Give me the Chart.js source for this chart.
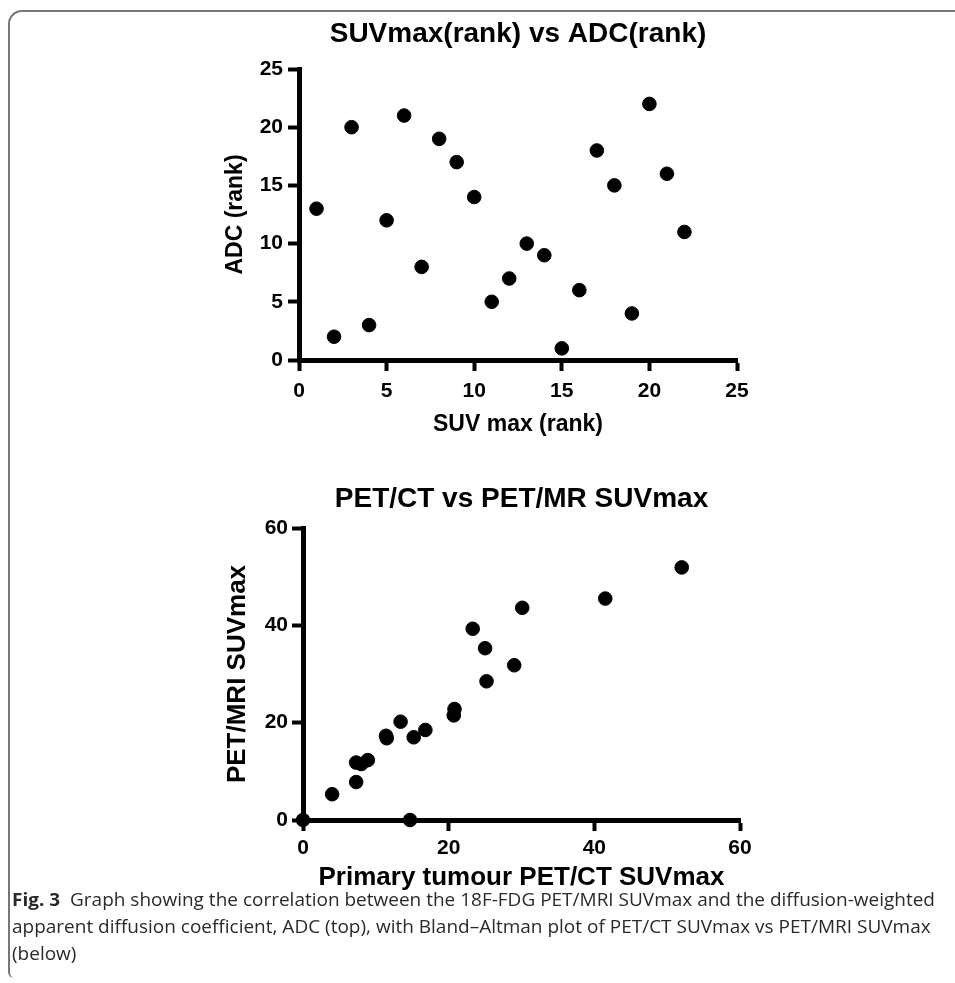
<!DOCTYPE html>
<html>
<head>
<meta charset="utf-8">
<script src="https://cdn.jsdelivr.net/npm/chart.js@4.4.1/dist/chart.umd.min.js"></script>
<style>
    body { margin: 0; background: #fff; width: 955px; height: 983px; overflow: hidden; position: relative; }
    .frame {
        position: absolute; left: 8px; top: 10px; width: 990px; height: 966px;
        border-top: 2px solid #777; border-left: 2px solid #777;
        border-top-left-radius: 14px; border-bottom-left-radius: 6px;
    }
    .box { position: absolute; left: 150px; width: 640px; }
    #topBox { top: 0px; height: 445px; }
    #bottomBox { top: 460px; height: 440px; }
    .caption {
        position: absolute; left: 12px; top: 886px;
        font-family: "Open Sans", sans-serif; font-size: 17.5px; line-height: 27px; color: #2a2a2a;
    }
    .caption span { display: block; white-space: nowrap; transform-origin: left center; }
</style>
</head>
<body>
<div class="frame"></div>
<div class="box" id="topBox"><canvas id="rankChart"></canvas></div>
<div class="box" id="bottomBox"><canvas id="suvChart"></canvas></div>
<div class="caption" id="caption">
    <span><b>Fig. 3</b>&nbsp; Graph showing the correlation between the 18F-FDG PET/MRI SUVmax and the diffusion-weighted</span>
    <span>apparent diffusion coefficient, ADC (top), with Bland–Altman plot of PET/CT SUVmax vs PET/MRI SUVmax</span>
    <span>(below)</span>
</div>
<script>
// top plot: rank vs rank
var suvRank = [1, 2, 3, 4, 5, 6, 7, 8, 9, 10, 11, 12, 13, 14, 15, 16, 17, 18, 19, 20, 21, 22];
var adcRank = [13, 2, 20, 3, 12, 21, 8, 19, 17, 14, 5, 7, 10, 9, 1, 6, 18, 15, 4, 22, 16, 11];
var rankTicks = [0, 5, 10, 15, 20, 25];

// bottom plot: PET/CT vs PET/MRI SUVmax
var petCt = [0, 4.0, 7.3, 7.3, 8.0, 8.9, 11.4, 11.5, 13.4, 14.7, 15.2, 16.8, 20.7, 20.8, 23.3, 25.0, 25.2, 29.0, 30.1, 41.5, 52.0];
var petMr = [0, 5.3, 7.8, 11.8, 11.5, 12.3, 17.3, 16.8, 20.2, 0, 17.0, 18.5, 21.5, 22.8, 39.3, 35.3, 28.5, 31.8, 43.6, 45.5, 51.9];
var suvTicks = [0, 20, 40, 60];

var fontFamily = '"Liberation Sans", Arial, sans-serif';

function toPoints(xs, ys) {
    return xs.map(function(x, i) { return { x: x, y: ys[i] }; });
}

function makeAxis(ticks, titleText, titleSize, titlePad, tickPad, fixedSize, horizontal) {
    return {
        type: 'linear',
        min: ticks[0],
        max: ticks[ticks.length - 1],
        afterBuildTicks: function(scale) {
            scale.ticks = ticks.map(function(v) { return { value: v }; });
        },
        afterFit: function(scale) {
            if (horizontal) scale.height = fixedSize;
            else scale.width = fixedSize;
        },
        grid: {
            display: true,
            drawOnChartArea: false,
            drawTicks: true,
            tickLength: 11,
            tickWidth: 4,
            tickColor: '#000'
        },
        border: { display: true, color: '#000', width: 5 },
        ticks: {
            color: '#000',
            padding: tickPad,
            maxRotation: 0,
            font: { family: fontFamily, size: 21, weight: 'bold' }
        },
        title: {
            display: true,
            text: titleText,
            color: '#000',
            padding: titlePad,
            font: { family: fontFamily, size: titleSize, weight: 'bold' }
        }
    };
}

function makeChart(id, xs, ys, opts) {
    var ctx = document.getElementById(id);
    return new Chart(ctx, {
        type: 'scatter',
        data: {
            datasets: [{
                data: toPoints(xs, ys),
                backgroundColor: '#000',
                borderColor: '#000',
                pointRadius: 6.8,
                pointHoverRadius: 6.8,
                clip: false
            }]
        },
        options: {
            responsive: true,
            maintainAspectRatio: false,
            animation: false,
            events: [],
            layout: { padding: { left: 0, right: opts.padRight, top: 0, bottom: 0 } },
            plugins: {
                legend: { display: false },
                tooltip: { enabled: false },
                title: {
                    display: true,
                    fullSize: false,
                    text: opts.title,
                    color: '#000',
                    padding: { top: opts.titleTop, bottom: opts.titleBottom },
                    font: { family: fontFamily, size: 28, weight: 'bold' }
                }
            },
            scales: {
                x: makeAxis(opts.ticks, opts.xTitle, opts.axisTitleSize, { top: 0, bottom: opts.xTitlePad }, opts.xTickPad, opts.xHeight, true),
                y: makeAxis(opts.ticks, opts.yTitle, opts.axisTitleSize, { top: opts.yTitlePad, bottom: 0 }, opts.yTickPad, opts.yWidth, false)
            }
        }
    });
}

makeChart('rankChart', suvRank, adcRank, {
    title: 'SUVmax(rank) vs ADC(rank)',
    xTitle: 'SUV max (rank)',
    yTitle: 'ADC (rank)',
    ticks: rankTicks,
    axisTitleSize: 23,
    titleTop: 17,
    titleBottom: 18.4,
    xHeight: 85,
    yWidth: 149,
    xTitlePad: 7,
    yTitlePad: 72,
    xTickPad: 8,
    yTickPad: 5,
    padRight: 53
});

makeChart('suvChart', petCt, petMr, {
    title: 'PET/CT vs PET/MR SUVmax',
    xTitle: 'Primary tumour PET/CT SUVmax',
    yTitle: 'PET/MRI SUVmax',
    ticks: suvTicks,
    axisTitleSize: 26,
    titleTop: 22,
    titleBottom: 12.4,
    xHeight: 80,
    yWidth: 153,
    xTitlePad: 7,
    yTitlePad: 72,
    xTickPad: 5,
    yTickPad: 4,
    padRight: 50
});

// squeeze caption lines to the width of the printed caption
var lines = document.querySelectorAll('#caption span');
var firstWidth = lines[0].getBoundingClientRect().width;
var squeeze = 923 / firstWidth;
lines.forEach(function(el) { el.style.transform = 'scaleX(' + squeeze + ')'; });
</script>
</body>
</html>
